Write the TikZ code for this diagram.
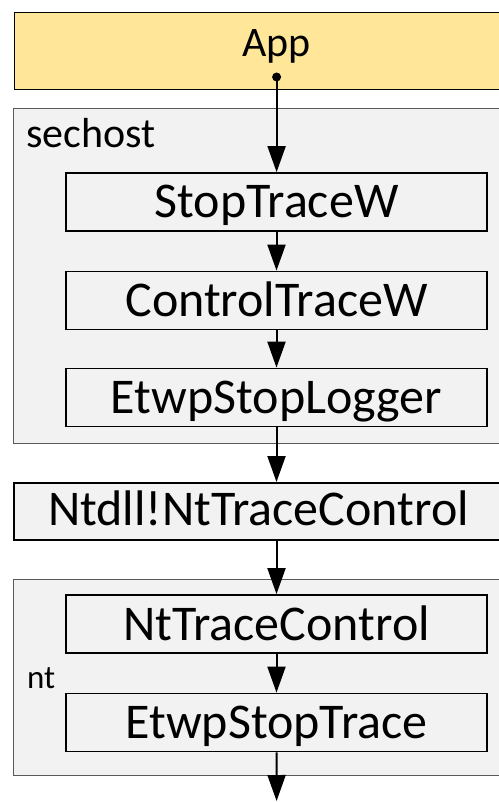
\documentclass[tikz,border=0pt]{standalone}
\usepackage{fontspec}
\setmainfont{Carlito}
\usetikzlibrary{arrows.meta,calc}
\definecolor{appfill}{HTML}{FFE699}
\definecolor{grpfill}{HTML}{F2F2F2}
\definecolor{grpline}{HTML}{595959}
\tikzset{
  x=1pt,y=1pt,
  fnbox/.style={draw=black,line width=1.8pt,fill=grpfill,minimum width=421pt,minimum height=58pt,
    inner sep=0pt,text height=32pt,text depth=0pt,font=\fontsize{50}{60}\selectfont},
  grpbox/.style={draw=grpline,line width=1pt,fill=grpfill},
  grplabel/.style={anchor=base west,inner sep=0pt},
  flow/.style={line width=2pt,-{Triangle[length=26pt,width=18pt]}}
}
\begin{document}
\begin{tikzpicture}
\useasboundingbox (0,0) rectangle (498,-802);
% App box
\node[draw=black,line width=1pt,fill=appfill,minimum width=510pt,minimum height=77pt,inner sep=0pt,anchor=north west] (app) at (14,-12) {};
\node[inner sep=0pt,text height=27pt,text depth=0pt,font=\fontsize{42}{50}\selectfont,anchor=south] (apptext) at (276.5,-56.7) {App};
\fill (276.6,-77) circle (4.5);
\coordinate (dotc) at (276.6,-77);
% sechost group
\node[grpbox,minimum width=510pt,minimum height=335pt,inner sep=0pt,anchor=north west] (sechost) at (13,-108) {};
\node[grplabel,font=\fontsize{42}{50}\selectfont] (sechostlbl) at (26,-148) {sechost};
\node[fnbox] (stop) at (276.5,-202) {StopTraceW};
\node[fnbox] (ctrl) at (276.5,-300.5) {ControlTraceW};
\node[fnbox] (logger) at (276.5,-397.5) {EtwpStopLogger};
% ntdll
\node[fnbox,minimum width=510pt,minimum height=57pt,anchor=north west] (ntdll) at (13,-482) {};
\node[inner sep=0pt,text height=32pt,text depth=0pt,font=\fontsize{50}{60}\selectfont] (ntdlltext) at (258.5,-509) {Ntdll!NtTraceControl};
% nt group
\node[grpbox,minimum width=510pt,minimum height=196pt,inner sep=0pt,anchor=north west] (ntgrp) at (13,-579) {};
\node[grplabel,font=\fontsize{33}{40}\selectfont] (ntlbl) at (27,-688) {nt};
\node[fnbox] (ntc) at (276.5,-624) {NtTraceControl};
\node[fnbox] (etrace) at (276.5,-722.5) {EtwpStopTrace};
\coordinate (endpt) at (276.6,-801);
% connectors
\draw[flow] (dotc) -- (dotc |- stop.north);
\draw[flow] (stop.south) -- (ctrl.north);
\draw[flow] (ctrl.south) -- (logger.north);
\draw[flow] (logger.south) -- (logger.south |- ntdll.north);
\draw[flow] (logger.south |- ntdll.south) -- (ntc.north);
\draw[flow] (ntc.south) -- (etrace.north);
\draw[flow] (etrace.south) -- (endpt);
\end{tikzpicture}
\end{document}
